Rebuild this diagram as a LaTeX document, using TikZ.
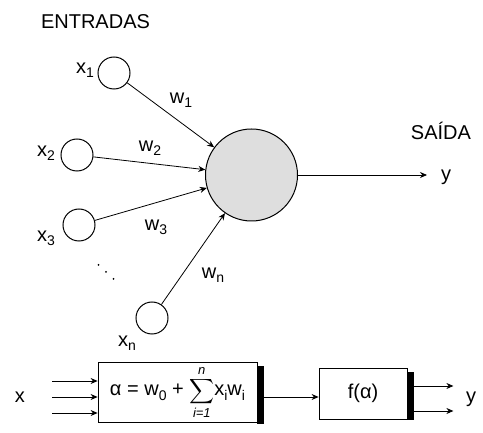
\documentclass[tikz,border=0pt]{standalone}
\usepackage{amsmath}
\usepackage{fontspec}
\setmainfont{Liberation Sans}
\usetikzlibrary{arrows.meta,calc}
\newcommand\subs[1]{\raisebox{-0.4ex}{\fontsize{14}{14}\selectfont #1}}
\newcommand\smallit[1]{\mbox{\fontsize{13}{13}\selectfont\itshape #1}}
\begin{document}
\begin{tikzpicture}[x=1pt,y=-1pt,
  every node/.style={font=\fontsize{20}{24}\selectfont},
  inp/.style={circle,draw,line width=1pt,minimum size=32pt,inner sep=0pt},
  neuron/.style={circle,draw,line width=1pt,fill=black!13,minimum size=92pt,inner sep=0pt},
  lbl/.style={inner sep=0pt},
  arr/.style={line width=0.8pt,-{Stealth[length=7pt,width=6pt]}},
  blk/.style={draw,line width=0.8pt,inner sep=0pt},
  shadow/.style={fill=black,draw=none}]
\useasboundingbox (0,0) rectangle (483,433);
% top part
\node[lbl] (ent) at (95.5,22) {ENTRADAS};
\node[inp] (c1) at (114,73) {};
\node[inp] (c2) at (77,155) {};
\node[inp] (c3) at (79,225) {};
\node[inp] (cn) at (152,318) {};
\node[neuron] (N) at (251.5,175) {};
\node[lbl] (lx1) at (85,70) {x\subs{1}};
\node[lbl] (lx2) at (46,153) {x\subs{2}};
\node[lbl] (lx3) at (46,238) {x\subs{3}};
\node[lbl] (lxn) at (127,343) {x\subs{n}};
\node[lbl] (w1) at (181,100) {w\subs{1}};
\node[lbl] (w2) at (150,148) {w\subs{2}};
\node[lbl] (w3) at (156,227) {w\subs{3}};
\node[lbl] (wn) at (213,275) {w\subs{n}};
\node[lbl] (sai) at (441,131) {SAÍDA};
\node[lbl,anchor=west] (yo) at (441,177) {y};
\fill (98.5,265) circle (1pt) (106,272) circle (1pt) (113.5,279) circle (1pt);
\draw[arr] (c1) -- (N);
\draw[arr] (c2) -- (N);
\draw[arr] (c3) -- (N);
\draw[arr] (cn) -- (N);
\draw[arr,shorten >=14pt] (N.east) -- (N.east -| yo.west);
% bottom block diagram
\node[blk,minimum width=159pt,minimum height=59.5pt] (b1) at (177.5,392.5)
  {α = w\subs{0} + {\fontsize{16}{18}\selectfont$\displaystyle\sum_{\smallit{i=1}}^{\smallit{n}}$}x\subs{i}w\subs{i}};
\node[blk,minimum width=88pt,minimum height=51pt] (b2) at (363,393.5) {f(α)};
\fill[shadow] ($(b1.north east)+(0,4)$) rectangle ($(b1.south east)+(6.5,1.5)$);
\fill[shadow] ($(b2.north east)+(0,4)$) rectangle ($(b2.south east)+(7,1)$);
\node[lbl] (xin) at (20,397) {x};
\node[lbl,anchor=west] (yout) at (466,399) {y};
\coordinate (i1) at (52,381);
\coordinate (i2) at (52,397);
\coordinate (i3) at (52,413);
\draw[arr] (i1) -- (i1 -| b1.west);
\draw[arr] (i2) -- (i2 -| b1.west);
\draw[arr] (i3) -- (i3 -| b1.west);
\coordinate (m1) at ($(b1.east)+(6.5,4.5)$);
\draw[arr] (m1) -- (m1 -| b2.west);
\coordinate (o1) at ($(b2.east)+(7,-7.5)$);
\coordinate (o2) at ($(b2.east)+(7,17.5)$);
\draw[arr] (o1) -- ++(39,0);
\draw[arr] (o2) -- ++(39,0);
\end{tikzpicture}
\end{document}
